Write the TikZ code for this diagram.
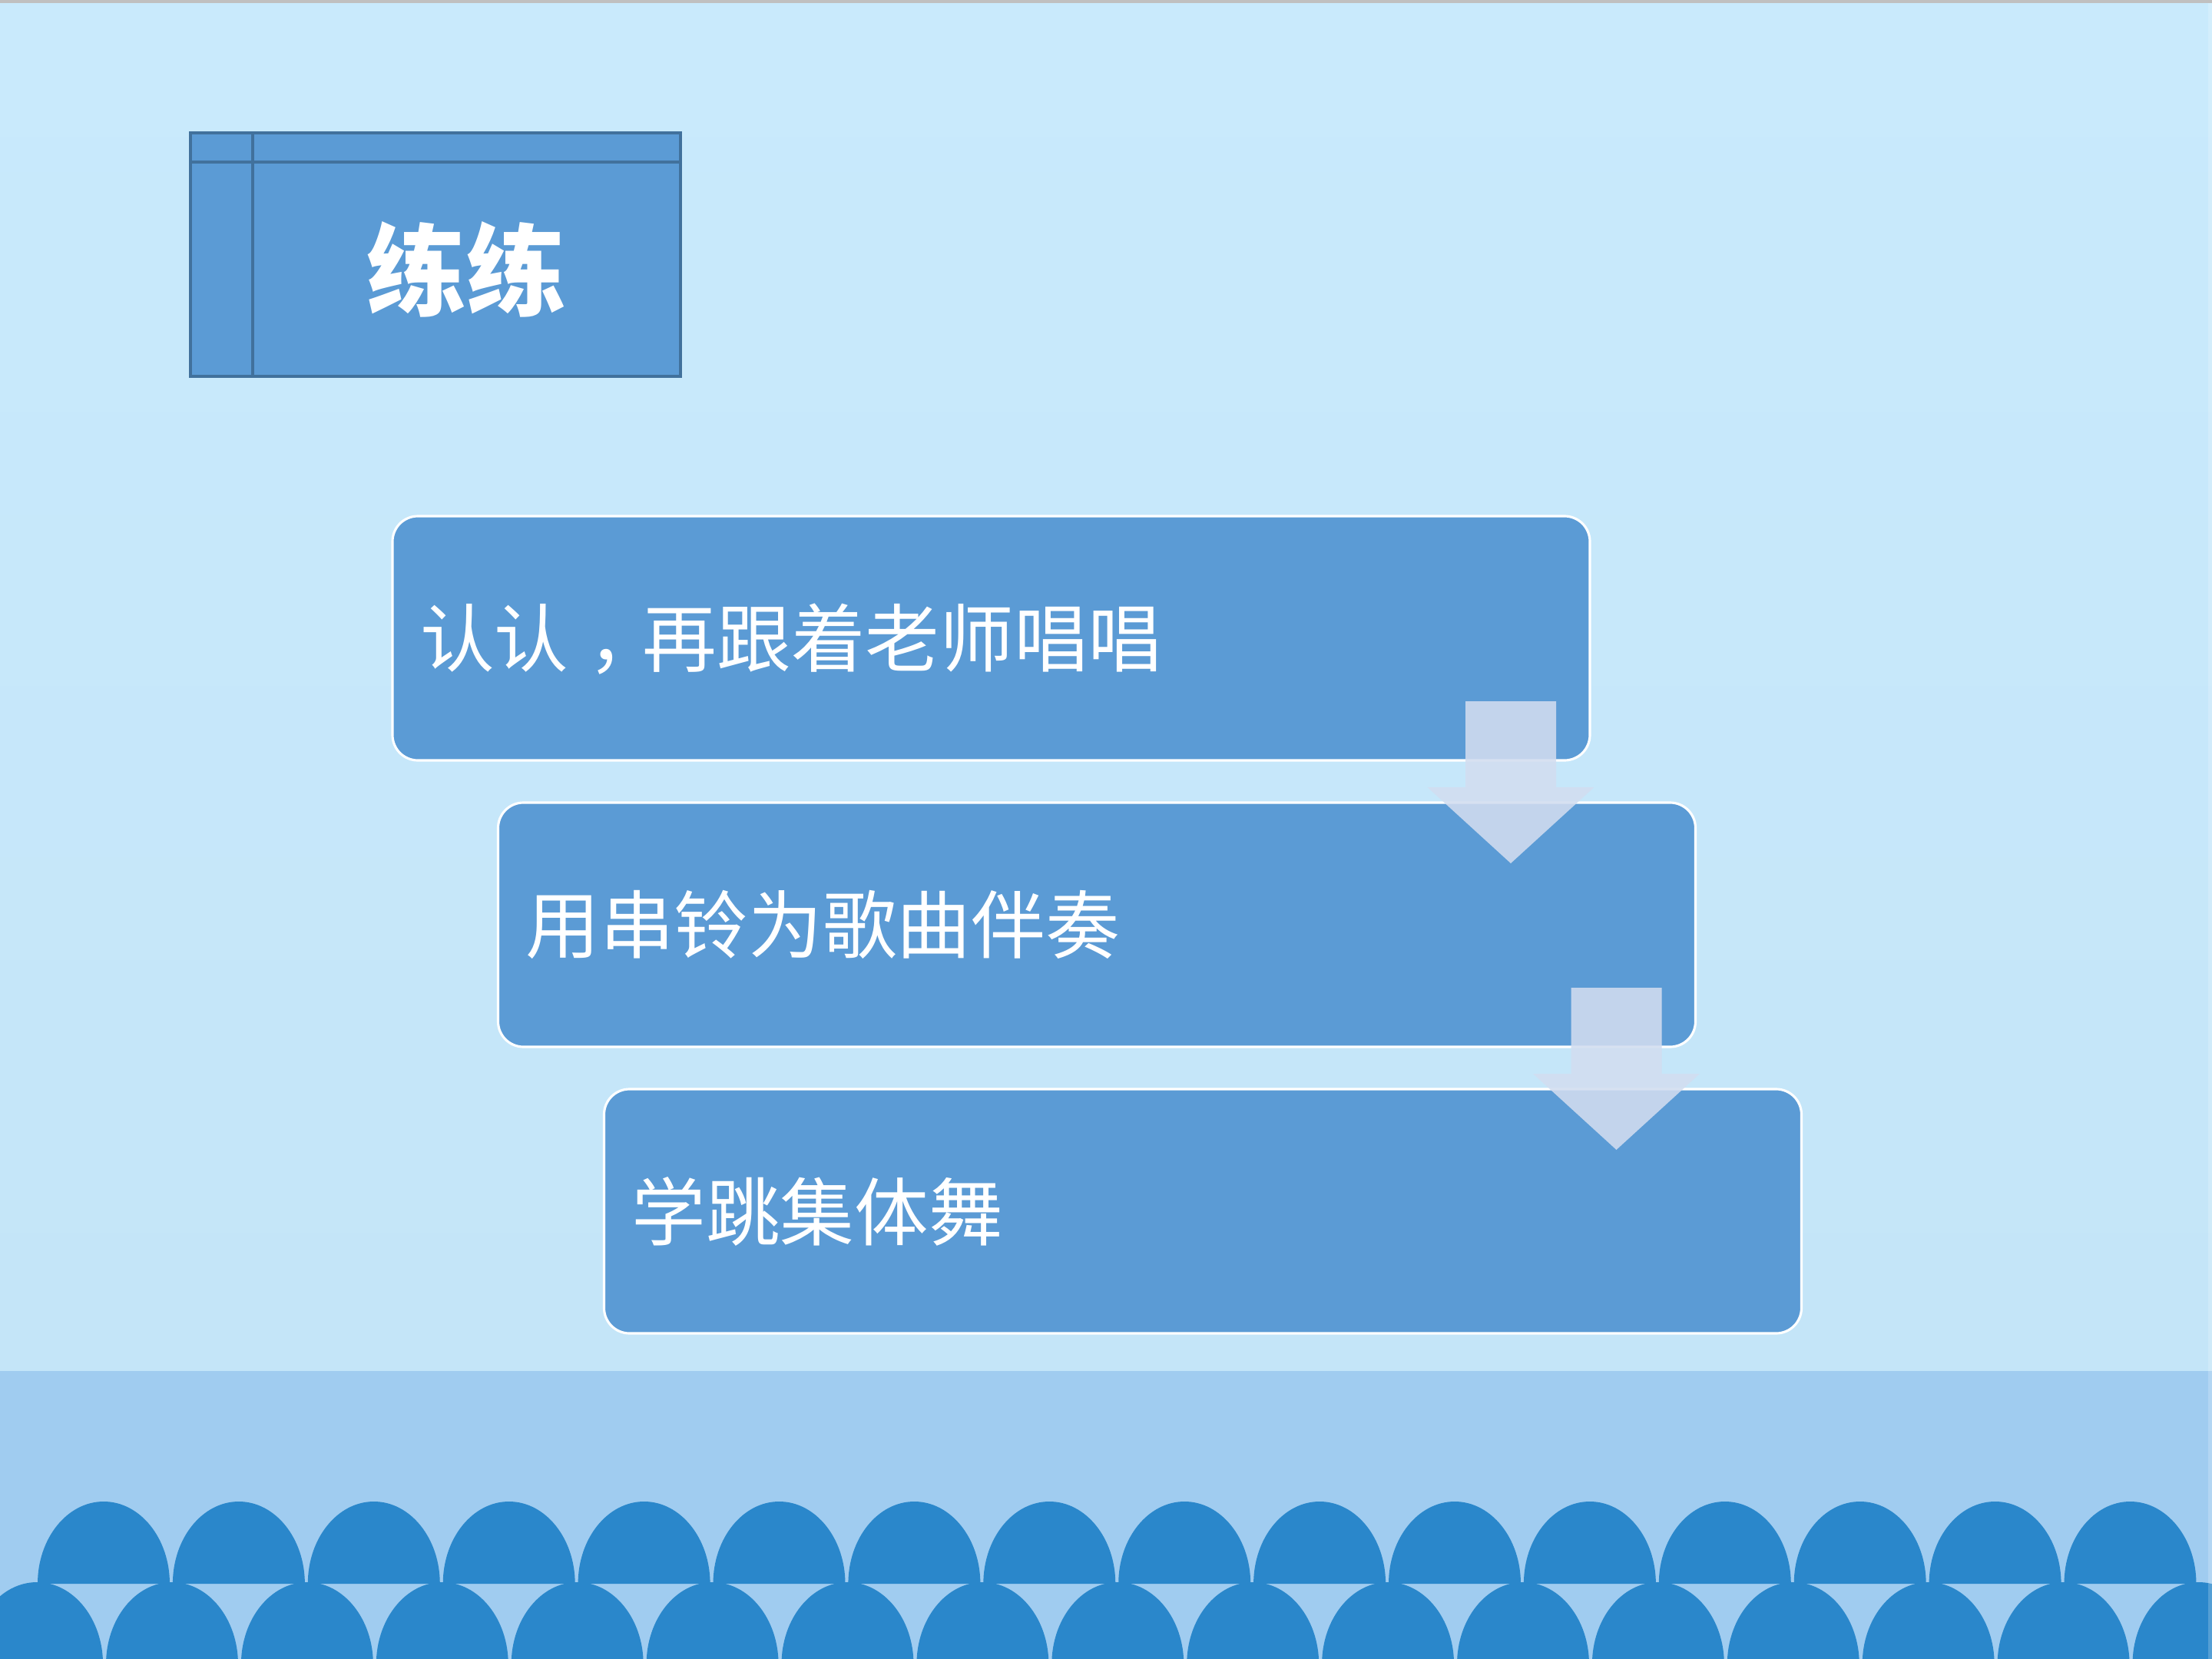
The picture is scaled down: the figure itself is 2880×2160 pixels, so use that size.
\documentclass[tikz,border=0pt]{standalone}
\usepackage{fontspec}
\newfontfamily\cjk{Noto Sans CJK SC}
\newfontfamily\cjktc{Noto Sans CJK TC}
\definecolor{bgtop}{RGB}{201,234,252}
\definecolor{bgbot}{RGB}{196,229,248}
\definecolor{stripblue}{RGB}{160,204,240}
\definecolor{waveblue}{RGB}{42,135,203}
\definecolor{boxblue}{RGB}{91,155,213}
\definecolor{titleedge}{RGB}{65,113,156}
\definecolor{arrowfill}{RGB}{210,221,240}
\definecolor{slideedge}{RGB}{192,192,192}

\begin{document}
\begin{tikzpicture}[x=0.1mm,y=-0.1mm,
  stepbox/.style={draw=white,line width=0.9pt,fill=boxblue,rounded corners=3.3mm,
    minimum height=31.8mm,text width=148.7mm,inner xsep=3.6mm,inner ysep=0pt,
    align=left,outer sep=0pt,text=white,font=\cjk\fontsize{27.5}{30}\selectfont},
  titlebox/.style={draw=titleedge,line width=0.9pt,fill=boxblue,outer sep=0pt,
    minimum width=63.8mm,minimum height=31.7mm},
  wave/.style={fill=waveblue},
  steparrow/.pic={
    \fill[arrowfill,fill opacity=.88] (-59,0) -- (59,0) -- (59,112) -- (108.5,112)
      -- (0,211) -- (-108.5,112) -- (-59,112) -- cycle;}]
  \useasboundingbox (0,0) rectangle (2880,2160);
  % background and the scalloped strip at the bottom
  \shade[top color=bgtop,bottom color=bgbot] (0,0) rectangle (2880,1785);
  \fill[stripblue] (0,1785) rectangle (2880,2160);
  \foreach \i in {0,...,15}
    \fill[wave] (135+175.9*\i-86,2062) arc[start angle=180,end angle=0,x radius=8.6mm,y radius=10.7mm] -- cycle;
  \foreach \i in {-1,...,15}
    \fill[wave] (224+175.9*\i-86,2167) arc[start angle=180,end angle=0,x radius=8.6mm,y radius=10.7mm] -- cycle;
  \fill[slideedge] (0,0) rectangle (2880,4);
  \fill[white,opacity=.2] (2875,4) rectangle (2880,2160);

  % title
  \node[titlebox] (ttl) at (567,331.5) {};
  \draw[titleedge,line width=0.9pt] ([yshift=-3.8mm]ttl.north west) -- ([yshift=-3.8mm]ttl.north east);
  \draw[titleedge,line width=0.9pt] ([xshift=8.1mm]ttl.north west) -- ([xshift=8.1mm]ttl.south west);
  \node[text=white,font=\cjk\bfseries\fontsize{37}{40}\selectfont] (ttltext) at (607.5,350.5) {练练};

  % steps
  \node[stepbox] (b1) at (1290.5,831) {认认\raisebox{-.3em}[0pt][0pt]{\cjktc ，}再跟着老师唱唱};
  \node[stepbox] (b2) at (1428,1204) {用串铃为歌曲伴奏};
  \node[stepbox] (b3) at (1566,1577) {学跳集体舞};
  \foreach \b in {b1,b2}
    \pic at ([xshift=-10.3mm,yshift=7.7mm]\b.south east) {steparrow};
\end{tikzpicture}
\end{document}
